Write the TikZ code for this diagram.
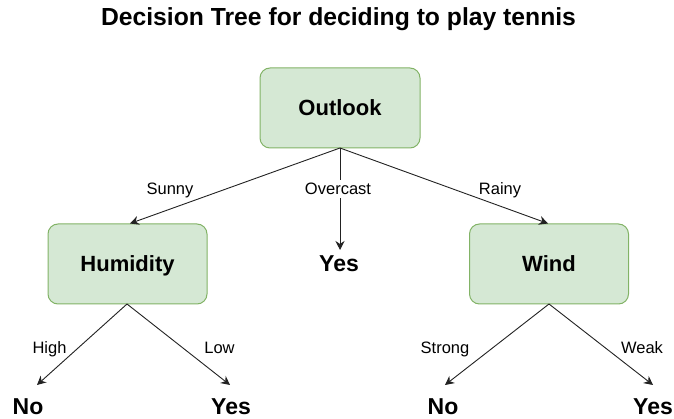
\documentclass[tikz,border=0pt]{standalone}
\usepackage{fontspec}
\setmainfont{Liberation Sans}
\usetikzlibrary{arrows.meta}
\definecolor{boxfill}{HTML}{D5E8D4}
\definecolor{boxdraw}{HTML}{82B366}
\definecolor{linecol}{HTML}{222222}
\begin{document}
\begin{tikzpicture}[x=1pt,y=-1pt,
  decbox/.style={draw=boxdraw,fill=boxfill,rounded corners=10pt,line width=1pt,
    minimum width=159pt,minimum height=80pt,inner sep=0pt,font=\fontsize{22}{25}\selectfont\bfseries,
    text height=15.75pt,text depth=0pt},
  leaf/.style={inner sep=0pt,font=\fontsize{23}{26}\selectfont\bfseries,text height=16.5pt,text depth=0pt},
  lbl/.style={inner xsep=1pt,inner ysep=3pt,font=\fontsize{16.5}{19}\selectfont,text height=11.8pt,text depth=0pt},
  conn/.style={-{Stealth[length=9pt,width=9pt,inset=3pt]},line width=0.9pt,linecol}]
\useasboundingbox (0,0) rectangle (674,419);
\node[font=\fontsize{24.7}{28}\selectfont\bfseries,text height=17.7pt,text depth=0pt,inner sep=0pt] (title) at (338.5,17) {Decision Tree for deciding to play tennis};
\node[decbox,minimum width=160pt] (outlook) at (340,108) {Outlook};
\node[decbox] (humidity) at (127.5,264) {Humidity};
\node[decbox] (wind) at (549,264) {Wind};
\node[leaf] (yesmid) at (339,263.5) {Yes};
\node[leaf] (no1) at (28,406) {No};
\node[leaf] (yes1) at (231,406) {Yes};
\node[leaf] (no2) at (443,406) {No};
\node[leaf] (yes2) at (653,406) {Yes};
\coordinate (ob) at (340,148);
\coordinate (hb) at (127,304);
\coordinate (wb) at (549,304);
\draw[conn] (ob) -- (130,223.5) coordinate (ht);
\draw[conn] (ob) -- (340,250) coordinate (yt);
\draw[conn] (ob) -- (548,223.5) coordinate (wt);
\draw[conn] (hb) -- (37,385) coordinate (n1t);
\draw[conn] (hb) -- (230,385) coordinate (y1t);
\draw[conn] (wb) -- (445,385) coordinate (n2t);
\draw[conn] (wb) -- (653,385) coordinate (y2t);
\node[lbl] (sunny) at (170,189) {Sunny};
\node[lbl,fill=white] (overcast) at (338,189) {Overcast};
\node[lbl] (rainy) at (500,189) {Rainy};
\node[lbl] (high) at (49.5,348) {High};
\node[lbl] (low) at (219.5,348) {Low};
\node[lbl] (strong) at (445,348) {Strong};
\node[lbl] (weak) at (642,348) {Weak};
\end{tikzpicture}
\end{document}
